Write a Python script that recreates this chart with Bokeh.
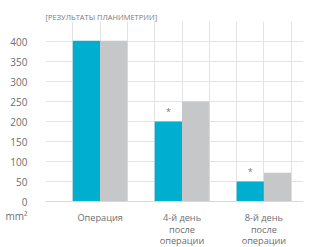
from bokeh.plotting import figure
from bokeh.models import FixedTicker, ColumnDataSource, Span
from bokeh.core.properties import value
from bokeh.embed import file_html
from bokeh.resources import INLINE

categories = ["Операция", "4-й день\nпосле\nоперации", "8-й день\nпосле\nоперации"]
series_a = [402, 200, 50]
series_b = [402, 250, 72]
marks = ["", "*", "*"]
y_ticks = [0, 50, 100, 150, 200, 250, 300, 350, 400]
title_text = "[РЕЗУЛЬТАТЫ ПЛАНИМЕТРИИ]"
unit_text = "mm²"

BLUE = "#00AFD0"
GREY = "#C6C7C8"
TXT = "#6d6e70"
GRID = "#e3e3e3"
FONT = "Open Sans"

Y_MIN, Y_MAX = -115, 450
X_MIN, X_MAX = 0, 9.45
UNIT_Y = -35
LABEL_Y = -24

centers = [2 + 3 * i for i in range(len(categories))]
xa = [c - 0.5 for c in centers]
xb = [c + 0.5 for c in centers]

p = figure(width=333, height=247, output_backend="svg", toolbar_location=None,
           x_range=(X_MIN, X_MAX), y_range=(Y_MIN, Y_MAX))
p.min_border_left = 45
p.min_border_right = 30
p.min_border_top = 21
p.min_border_bottom = 0
p.outline_line_color = None
p.background_fill_color = "white"
p.border_fill_color = "white"

p.title.text = title_text
p.title.align = "left"
p.title.text_font = FONT
p.title.text_font_size = "7.5px"
p.title.text_font_style = "normal"
p.title.text_color = "#7a7a7a"
p.title.standoff = 0

p.xgrid.ticker = FixedTicker(ticks=list(range(0, 10)))
p.xgrid.grid_line_color = GRID
p.ygrid.ticker = FixedTicker(ticks=y_ticks)
p.ygrid.grid_line_color = GRID

# white area below the baseline (labels region)
p.quad(left=[X_MIN], right=[X_MAX], bottom=[Y_MIN], top=[0], fill_color="white", line_color=None)
p.add_layout(Span(location=0, dimension="width", line_color="#d8d8d8", line_width=1))

src_a = ColumnDataSource(dict(x=xa, top=series_a, m=marks))
src_b = ColumnDataSource(dict(x=xb, top=series_b))
p.vbar(x="x", top="top", width=1.0, bottom=0, source=src_a, fill_color=BLUE, line_color=None)
p.vbar(x="x", top="top", width=1.0, bottom=0, source=src_b, fill_color=GREY, line_color=None)
p.text(x="x", y="top", text="m", source=src_a, text_align="center", text_baseline="middle",
       y_offset=-10, text_font=value(FONT), text_font_size="9px", text_color="#777777")

src_c = ColumnDataSource(dict(x=centers, y=[LABEL_Y] * len(centers), t=categories))
p.text(x="x", y="y", text="t", source=src_c, text_align="center", text_baseline="top",
       text_font=value(FONT), text_font_size="9.2px", text_color=TXT, text_line_height=0.9)

p.xaxis.visible = False

p.yaxis.ticker = FixedTicker(ticks=[UNIT_Y] + y_ticks)
p.yaxis.major_label_overrides = {UNIT_Y: unit_text}
p.yaxis.axis_line_color = None
p.yaxis.major_tick_line_color = None
p.yaxis.minor_tick_line_color = None
p.yaxis.major_label_standoff = 12
p.yaxis.major_label_text_font = FONT
p.yaxis.major_label_text_font_size = "10px"
p.yaxis.major_label_text_color = TXT

open("out.html", "w").write(file_html(p, INLINE))
